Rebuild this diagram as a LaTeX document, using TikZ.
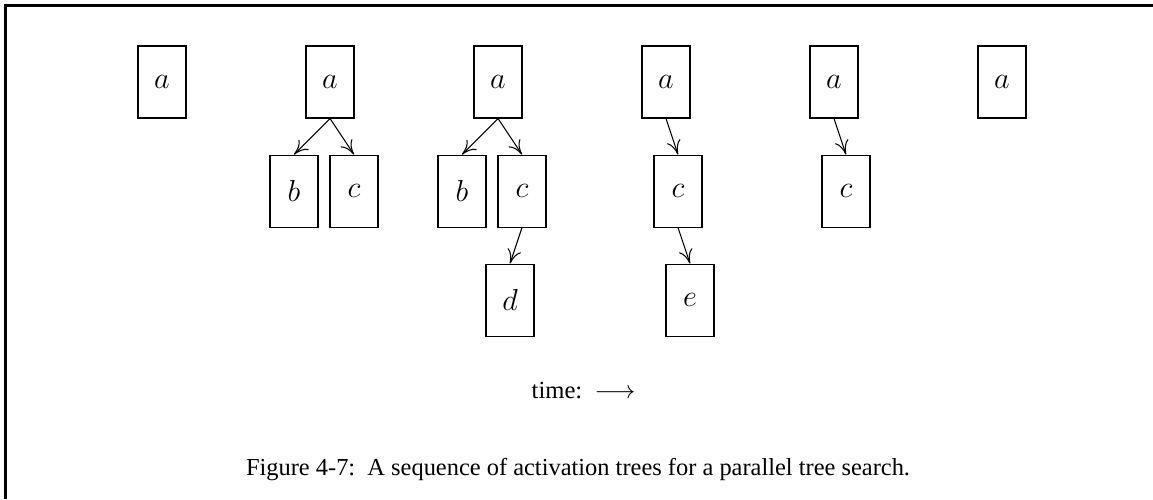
\documentclass[tikz,border=0pt]{standalone}
\usepackage{fontspec}
\setmainfont{Liberation Serif}
\usetikzlibrary{positioning,arrows.meta}

\begin{document}
\begin{tikzpicture}[->,>={To[length=8pt,width=8pt]},line width=0.6pt,font=\fontsize{14}{17}\selectfont,
    box/.style={draw,-,minimum width=0.96cm,minimum height=1.44cm,inner sep=0pt,font=\fontsize{17}{20}\selectfont}]

            \useasboundingbox (0,0) rectangle (23.06,-9.98);
            \draw[-,line width=1.5pt] (0.11,-9.98) -- (0.11,-0.11) -- (23.06,-0.11);

            % one tree per moment
            \node[box] (a1) at (3.24,-1.64) {$a$};

            \node[box] (a2) at (6.60,-1.64) {$a$};
            \node[box] (b2) [below=0.72cm of a2, xshift=-0.72cm] {$b$};
            \node[box] (c2) [below=0.72cm of a2, xshift=0.48cm] {$c$};

            \node[box] (a3) at (9.96,-1.64) {$a$};
            \node[box] (b3) [below=0.72cm of a3, xshift=-0.72cm] {$b$};
            \node[box] (c3) [below=0.72cm of a3, xshift=0.48cm] {$c$};
            \node[box] (d3) [below=0.72cm of c3, xshift=-0.24cm] {$d$};

            \node[box] (a4) at (13.32,-1.64) {$a$};
            \node[box] (c4) [below=0.72cm of a4, xshift=0.24cm] {$c$};
            \node[box] (e4) [below=0.72cm of c4, xshift=0.24cm] {$e$};

            \node[box] (a5) at (16.68,-1.64) {$a$};
            \node[box] (c5) [below=0.72cm of a5, xshift=0.24cm] {$c$};

            \node[box] (a6) at (20.04,-1.64) {$a$};

            \draw (a2.south) to (b2.north);
            \draw (a2.south) to (c2.north);
            \draw (a3.south) to (b3.north);
            \draw (a3.south) to (c3.north);
            \draw (c3.south) to (d3.north);
            \draw (a4.south) to (c4.north);
            \draw (c4.south) to (e4.north);
            \draw (a5.south) to (c5.north);

            \node (time) at (11.67,-7.82) {time:\ \ $\longrightarrow$};
            \node[font=\fontsize{13.9}{17}\selectfont] (caption) at (11.56,-9.40) {Figure 4-7:\ \ A sequence of activation trees for a parallel tree search.};

            ;
        \end{tikzpicture}
\end{document}
